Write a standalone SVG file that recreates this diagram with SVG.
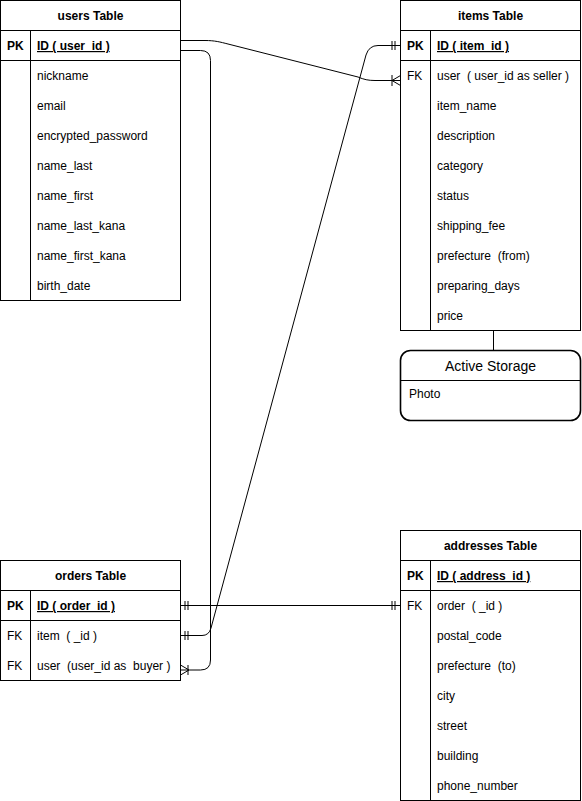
<svg xmlns="http://www.w3.org/2000/svg" width="582" height="801" viewBox="0 0 582 801">
<style>
.box{fill:#fff;stroke:#000;stroke-width:1}
.ln{fill:none;stroke:#000;stroke-width:1}
text{font-family:"Liberation Sans",Arial,sans-serif;font-size:12px;fill:#000;white-space:pre}
.t{font-weight:bold;text-anchor:middle}
.b{font-weight:bold}
.u{font-weight:bold;text-decoration:underline}
</style>
<rect width="582" height="801" fill="#fff"/>
<g id="connectors">
<path class="ln" d="M180.5,40.5 L205,40.5 C215,40.5 220,42 228,44 L358,77 C364,79.5 368,80.5 375,80.5 L400.5,80.5"/>
<path class="ln" d="M392,75 L392,86 M392,80.5 L400.5,75.5 M392,80.5 L400.5,85.5"/>
<path class="ln" d="M180.5,50.5 L200.5,50.5 Q210.5,50.5 210.5,60.5 L210.5,660 Q210.5,670 200.5,670 L180.5,670"/>
<path class="ln" d="M180.5,665 L189,670 L180.5,675 M188,665 L188,675"/>
<path class="ln" d="M180.5,635.5 L202,635.5 Q209,635.5 211,628 L366,55 Q369,45.5 378,45.5 L400.5,45.5"/>
<path class="ln" d="M185,631 L185,640 M188,631 L188,640 M392,41 L392,50 M395,41 L395,50"/>
<path class="ln" d="M180.5,605.5 L400.5,605.5"/>
<path class="ln" d="M185,601 L185,610 M188,601 L188,610 M392,601 L392,610 M395,601 L395,610"/>
<path class="ln" d="M493.5,330.5 L493.5,350.5"/>
</g>
<g id="users">
<rect class="box" x="0.5" y="0.5" width="180" height="300"/>
<path class="ln" d="M0.5,30.5 H180.5 M0.5,60.5 H180.5 M30.5,30.5 V300.5"/>
<text class="t" x="90.5" y="20">users Table</text>
<text class="b" x="7" y="50">PK</text>
<text class="u" x="37" y="50">ID ( user_id )</text>
<text x="37" y="80">nickname</text>
<text x="37" y="110">email</text>
<text x="37" y="140">encrypted_password</text>
<text x="37" y="170">name_last</text>
<text x="37" y="200">name_first</text>
<text x="37" y="230">name_last_kana</text>
<text x="37" y="260">name_first_kana</text>
<text x="37" y="290">birth_date</text>
</g>
<g id="items">
<rect class="box" x="400.5" y="0.5" width="180" height="330"/>
<path class="ln" d="M400.5,30.5 H580.5 M400.5,60.5 H580.5 M430.5,30.5 V330.5"/>
<text class="t" x="490.5" y="20">items Table</text>
<text class="b" x="407" y="50">PK</text>
<text class="u" x="437" y="50">ID ( item_id )</text>
<text x="407" y="80">FK</text>
<text x="437" y="80">user  ( user_id as seller )</text>
<text x="437" y="110">item_name</text>
<text x="437" y="140">description</text>
<text x="437" y="170">category</text>
<text x="437" y="200">status</text>
<text x="437" y="230">shipping_fee</text>
<text x="437" y="260">prefecture  (from)</text>
<text x="437" y="290">preparing_days</text>
<text x="437" y="320">price</text>
</g>
<g id="active-storage">
<rect x="400.5" y="350.5" width="180" height="70" rx="10" ry="10" fill="#fff" stroke="#000" stroke-width="1.6"/>
<path class="ln" d="M400.5,380.5 H580.5"/>
<text x="490.5" y="371" text-anchor="middle" style="font-size:14px">Active Storage</text>
<text x="409" y="398">Photo</text>
</g>
<g id="orders">
<rect class="box" x="0.5" y="560.5" width="180" height="120"/>
<path class="ln" d="M0.5,590.5 H180.5 M0.5,620.5 H180.5 M30.5,590.5 V680.5"/>
<text class="t" x="90.5" y="580">orders Table</text>
<text class="b" x="7" y="610">PK</text>
<text class="u" x="37" y="610">ID ( order_id )</text>
<text x="7" y="640">FK</text>
<text x="37" y="640">item  ( _id )</text>
<text x="7" y="670">FK</text>
<text x="37" y="670">user  (user_id as  buyer )</text>
</g>
<g id="addresses">
<rect class="box" x="400.5" y="530.5" width="180" height="270"/>
<path class="ln" d="M400.5,560.5 H580.5 M400.5,590.5 H580.5 M430.5,560.5 V800.5"/>
<text class="t" x="490.5" y="550">addresses Table</text>
<text class="b" x="407" y="580">PK</text>
<text class="u" x="437" y="580">ID ( address_id )</text>
<text x="407" y="610">FK</text>
<text x="437" y="610">order  ( _id )</text>
<text x="437" y="640">postal_code</text>
<text x="437" y="670">prefecture  (to)</text>
<text x="437" y="700">city</text>
<text x="437" y="730">street</text>
<text x="437" y="760">building</text>
<text x="437" y="790">phone_number</text>
</g>
</svg>
